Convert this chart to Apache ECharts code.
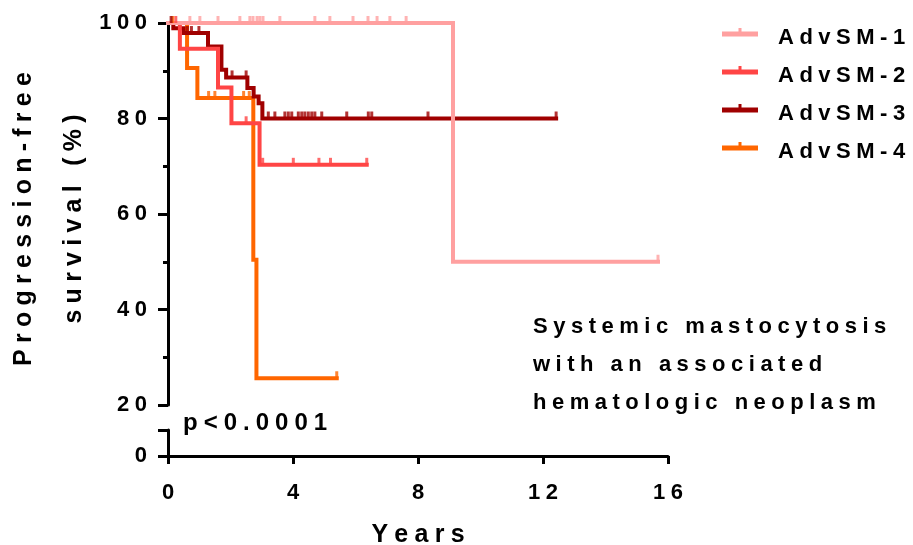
<!DOCTYPE html>
<html>
<head>
<meta charset="utf-8">
<script src="https://cdn.jsdelivr.net/npm/echarts@6/dist/echarts.min.js"></script>
<style>
  html, body { margin: 0; padding: 0; background: #fff; }
  #chart { width: 913px; height: 545px; }
</style>
</head>
<body>
<div id="chart"></div>
<script>
// groups and colours
var groups = ['AdvSM-1', 'AdvSM-2', 'AdvSM-3', 'AdvSM-4'];
var colors = ['#ffa0a0', '#ff4545', '#a00000', '#ff6600'];

// Kaplan-Meier steps: [years, % progression-free]
var pfs1 = [[0, 100], [9.12, 50], [15.68, 50]];
var pfs2 = [[0, 100], [0.38, 94.6], [1.6, 86.5], [2.03, 79], [2.93, 70.3], [6.36, 70.3]];
var pfs3 = [[0, 100], [0.17, 98.9], [0.5, 97.9], [1.28, 95.1], [1.71, 90.2], [1.86, 88.6],
            [2.54, 86.4], [2.74, 84.6], [2.9, 83.2], [3.02, 80], [12.42, 80]];
var pfs4 = [[0, 100], [0.61, 90.6], [0.94, 84.3], [2.73, 50.4], [2.83, 25.6], [5.4, 25.6]];

// censored observations (tick marks)
var cens1 = [[0.7, 100], [1.02, 100], [1.6, 100], [2.3, 100], [2.62, 100], [2.72, 100], [2.85, 100],
             [2.94, 100], [3.04, 100], [3.58, 100], [4.7, 100], [5.18, 100], [5.92, 100], [6.4, 100],
             [6.69, 100], [7.1, 100], [7.62, 100], [15.68, 50]];
var cens2 = [[0.25, 100], [2.5, 79], [3.03, 70.3], [4.01, 70.3], [4.83, 70.3], [5.2, 70.3], [6.36, 70.3]];
var cens3 = [[0.1, 100], [0.62, 97.9], [0.75, 97.9], [0.99, 97.9], [2.05, 88.6], [2.5, 88.6],
             [3.21, 80], [3.42, 80], [3.74, 80], [3.85, 80], [3.96, 80], [4.17, 80], [4.28, 80],
             [4.38, 80], [4.49, 80], [4.6, 80], [4.7, 80], [4.92, 80], [5.72, 80], [6.41, 80],
             [6.52, 80], [8.32, 80], [12.42, 80]];
var cens4 = [[0.15, 100], [1.3, 84.3], [1.5, 84.3], [2.42, 84.3], [2.6, 84.3], [5.4, 25.6]];

var curves = [pfs1, pfs2, pfs3, pfs4];
var censored = [cens1, cens2, cens3, cens4];

var xTicks = [0, 4, 8, 12, 16];
var yTicks = [20, 40, 60, 80, 100];

var FONT = '"Liberation Sans", Arial, sans-serif';
// Prism style wide letter spacing
function spaced(s) {
  return String(s).split('').join('\u2005');
}

var chart = echarts.init(document.getElementById('chart'));

var series = [];
// draw order: 4,3,2 then 1 on top
[3, 2, 1, 0].forEach(function (i) {
  series.push({
    name: groups[i],
    type: 'line',
    xAxisIndex: 0,
    yAxisIndex: 0,
    step: 'end',
    data: curves[i],
    showSymbol: false,
    clip: false,
    color: colors[i],
    lineStyle: { color: colors[i], width: 4, cap: 'square', join: 'miter' },
    z: 2 + (3 - i)
  });
});
[3, 2, 1, 0].forEach(function (i) {
  series.push({
    name: groups[i],
    type: 'scatter',
    xAxisIndex: 0,
    yAxisIndex: 0,
    data: censored[i],
    symbol: 'rect',
    symbolSize: [3, 7],
    symbolOffset: [0, -3.5],
    clip: false,
    itemStyle: { color: colors[i] },
    z: 10
  });
});

var option = {
  animation: false,
  backgroundColor: '#fff',
  grid: [
    { left: 168, width: 500, top: 23, height: 382, outerBoundsMode: 'none' },
    { left: 168, width: 500, top: 430, height: 26, outerBoundsMode: 'none' }
  ],
  xAxis: [
    { gridIndex: 0, type: 'value', min: 0, max: 16, interval: 4, show: false },
    {
      gridIndex: 1, type: 'value', min: 0, max: 16, interval: 4,
      axisLine: { lineStyle: { color: '#000', width: 3 } },
      axisTick: { length: 8, lineStyle: { color: '#000', width: 3 } },
      splitLine: { show: false },
      axisLabel: {
        margin: 26, color: '#000', fontSize: 22, fontWeight: 'bold', fontFamily: FONT,
        formatter: function (v) { return xTicks.indexOf(v) >= 0 ? spaced(v) : ''; }
      },
      name: spaced('Years'),
      nameLocation: 'middle',
      nameGap: 67,
      nameTextStyle: { color: '#000', fontSize: 25, fontWeight: 'bold', fontFamily: FONT }
    }
  ],
  yAxis: [
    {
      gridIndex: 0, type: 'value', min: 20, max: 100, interval: 20,
      axisLine: { show: true, lineStyle: { color: '#000', width: 3 } },
      axisTick: { show: true, length: 10, lineStyle: { color: '#000', width: 3 } },
      minorTick: { show: true, splitNumber: 2, length: 5, lineStyle: { color: '#000', width: 3 } },
      splitLine: { show: false },
      axisLabel: {
        margin: 21, color: '#000', fontSize: 22, fontWeight: 'bold', fontFamily: FONT,
        formatter: function (v) { return yTicks.indexOf(v) >= 0 ? spaced(v) : ''; }
      }
    },
    {
      gridIndex: 1, type: 'value', min: 0, max: 10, interval: 10,
      axisLine: { show: true, lineStyle: { color: '#000', width: 3 } },
      axisTick: { show: true, length: 10, lineStyle: { color: '#000', width: 3 } },
      splitLine: { show: false },
      axisLabel: {
        margin: 21, color: '#000', fontSize: 22, fontWeight: 'bold', fontFamily: FONT,
        formatter: function (v) { return v === 0 ? '0' : ''; }
      }
    }
  ],
  legend: {
    data: groups,
    orient: 'vertical',
    left: 722,
    top: 27,
    padding: 0,
    itemGap: 16,
    itemWidth: 36,
    itemHeight: 20,
    // line with a censor tick, lifted above the text centre
    icon: 'path://M0,3.4H36V8.4H0Z M16.5,0H19.5V3.4H16.5Z M0,20L0.01,20',
    itemStyle: { borderWidth: 0 },
    selectedMode: false,
    formatter: function (name) { return spaced(name); },
    textStyle: {
      color: '#000', fontSize: 22, fontWeight: 'bold', fontFamily: FONT,
      lineHeight: 20,
      padding: [0, 0, 0, 15]
    }
  },
  graphic: [
    {
      type: 'text', x: 49, y: 219, rotation: Math.PI / 2,
      style: {
        text: spaced('Progression-free') + '\n' + spaced('survival (%)'),
        fill: '#000', fontSize: 25, fontWeight: 'bold', fontFamily: FONT,
        align: 'center', verticalAlign: 'middle', lineHeight: 50
      }
    },
    {
      type: 'text', x: 533, y: 308,
      style: {
        text: spaced('Systemic mastocytosis') + '\n' + spaced('with an associated') + '\n' + spaced('hematologic neoplasm'),
        fill: '#000', fontSize: 22, fontWeight: 'bold', fontFamily: FONT,
        align: 'left', verticalAlign: 'top', lineHeight: 38
      }
    },
    {
      type: 'text', x: 183, y: 423,
      style: {
        text: spaced('p<0.0001'),
        fill: '#000', fontSize: 24, fontWeight: 'bold', fontFamily: FONT,
        align: 'left', verticalAlign: 'middle'
      }
    }
  ],
  series: series
};

chart.setOption(option);
</script>
</body>
</html>
